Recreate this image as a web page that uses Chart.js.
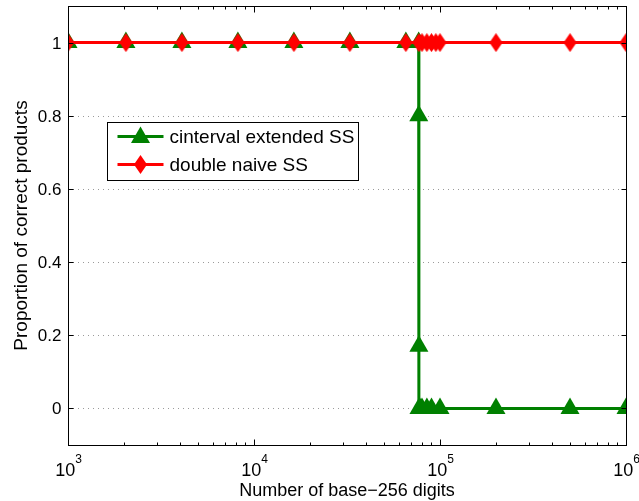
<!DOCTYPE html>
<html>
<head>
<meta charset="utf-8">
<script src="https://cdn.jsdelivr.net/npm/chart.js@4.4.0/dist/chart.umd.min.js"></script>
<style>
  body { margin: 0; background: #fff; }
  canvas { display: block; }
</style>
</head>
<body>
<canvas id="myChart" width="639" height="501"></canvas>
<script>
// number of base-256 digits (x) and proportion of correct products (y)
var intervalX = [1000, 2048, 4096, 8192, 16384, 32768, 65536, 76800, 76900, 77000, 77100, 78000, 80000, 85000, 90000, 100000, 200000, 500000, 1000000];
var intervalY = [1, 1, 1, 1, 1, 1, 1, 1, 0.8, 0.17, 0, 0, 0, 0, 0, 0, 0, 0, 0];
var naiveX = [1000, 2048, 4096, 8192, 16384, 32768, 65536, 77000, 80000, 85000, 90000, 95000, 100000, 200000, 500000, 1000000];
var naiveY = [1, 1, 1, 1, 1, 1, 1, 1, 1, 1, 1, 1, 1, 1, 1, 1];
var seriesNames = ["cinterval extended SS", "double naive SS"];
var seriesColors = ["#008000", "#ff0000"];
var xTickExps = [3, 4, 5, 6];
var yTicks = [0, 0.2, 0.4, 0.6, 0.8, 1];
var yTickLabels = ["0", "0.2", "0.4", "0.6", "0.8", "1"];
var xTitle = "Number of base\u2212256 digits";
var yTitle = "Proportion of correct products";

var FONT = '"Liberation Sans", Arial, sans-serif';

function toPoints(xs, ys) {
  return xs.map(function (x, i) { return { x: x, y: ys[i] }; });
}

// MATLAB style diamond is taller than wide
function makeDiamond(color, w, h) {
  var c = document.createElement("canvas");
  c.width = w;
  c.height = h;
  var g = c.getContext("2d");
  g.fillStyle = color;
  g.beginPath();
  g.moveTo(w / 2, 0);
  g.lineTo(w, h / 2);
  g.lineTo(w / 2, h);
  g.lineTo(0, h / 2);
  g.closePath();
  g.fill();
  return c;
}
var diamond = makeDiamond(seriesColors[1], 13, 19);

function drawTriangle(ctx, x, y, r, color) {
  ctx.fillStyle = color;
  ctx.beginPath();
  ctx.moveTo(x, y - r);
  ctx.lineTo(x + r * 0.866, y + r / 2);
  ctx.lineTo(x - r * 0.866, y + r / 2);
  ctx.closePath();
  ctx.fill();
}

// grid lines under the data
const gridPlugin = {
  id: "gridPlugin",
  beforeDatasetsDraw(chart) {
    const ctx = chart.ctx, a = chart.chartArea, ys = chart.scales.y;
    ctx.save();
    ctx.strokeStyle = "#9a9a9a";
    ctx.lineWidth = 1;
    ctx.setLineDash([1, 4]);
    yTicks.forEach(function (v) {
      const py = Math.round(ys.getPixelForValue(v)) + 0.5;
      ctx.beginPath();
      ctx.moveTo(a.left, py);
      ctx.lineTo(a.right, py);
      ctx.stroke();
    });
    ctx.restore();
  }
};

// box, ticks, labels and legend
const framePlugin = {
  id: "framePlugin",
  afterDraw(chart) {
    const ctx = chart.ctx, a = chart.chartArea, xs = chart.scales.x, ys = chart.scales.y;
    ctx.save();
    ctx.strokeStyle = "#000";
    ctx.lineWidth = 1;
    ctx.setLineDash([]);
    const L = Math.round(a.left) + 0.5, R = Math.round(a.right) + 0.5;
    const T = Math.round(a.top) + 0.5, B = Math.round(a.bottom) + 0.5;
    ctx.strokeRect(L, T, R - L, B - T);

    // y ticks on both sides
    ctx.fillStyle = "#000";
    ctx.font = "17px " + FONT;
    ctx.textAlign = "right";
    ctx.textBaseline = "middle";
    yTicks.forEach(function (v, i) {
      const py = Math.round(ys.getPixelForValue(v)) + 0.5;
      ctx.beginPath();
      ctx.moveTo(L, py); ctx.lineTo(L + 5, py);
      ctx.moveTo(R, py); ctx.lineTo(R - 5, py);
      ctx.stroke();
      ctx.fillText(yTickLabels[i], L - 7, py + 1);
    });

    // x ticks, major and minor
    xTickExps.forEach(function (e, k) {
      const base = Math.pow(10, e);
      const px = Math.round(xs.getPixelForValue(base)) + 0.5;
      ctx.beginPath();
      ctx.moveTo(px, B); ctx.lineTo(px, B - 6);
      ctx.moveTo(px, T); ctx.lineTo(px, T + 6);
      ctx.stroke();
      if (k < xTickExps.length - 1) {
        for (let m = 2; m <= 9; m++) {
          const mx = Math.round(xs.getPixelForValue(m * base)) + 0.5;
          ctx.beginPath();
          ctx.moveTo(mx, B); ctx.lineTo(mx, B - 3);
          ctx.moveTo(mx, T); ctx.lineTo(mx, T + 3);
          ctx.stroke();
        }
      }
      // 10^e label
      ctx.font = "18px " + FONT;
      const w10 = ctx.measureText("10").width;
      ctx.font = "12px " + FONT;
      const we = ctx.measureText(String(e)).width;
      const x0 = px - (w10 + we) / 2;
      ctx.textAlign = "left";
      ctx.textBaseline = "alphabetic";
      ctx.font = "18px " + FONT;
      ctx.fillText("10", x0, B + 30);
      ctx.font = "12px " + FONT;
      ctx.fillText(String(e), x0 + w10, B + 17);
    });

    // axis titles
    ctx.textAlign = "center";
    ctx.textBaseline = "alphabetic";
    ctx.font = "18px " + FONT;
    ctx.fillText(xTitle, (a.left + a.right) / 2, B + 50);
    ctx.save();
    ctx.font = "19px " + FONT;
    ctx.translate(27, (a.top + a.bottom) / 2);
    ctx.rotate(-Math.PI / 2);
    ctx.fillText(yTitle, 0, 0);
    ctx.restore();

    // legend box
    const lx = 107.5, ly = 122.5, lw = 251, lh = 58;
    ctx.fillStyle = "#fff";
    ctx.fillRect(lx, ly, lw, lh);
    ctx.strokeStyle = "#000";
    ctx.lineWidth = 1;
    ctx.strokeRect(lx, ly, lw, lh);
    ctx.font = "19px " + FONT;
    ctx.textAlign = "left";
    ctx.textBaseline = "middle";
    seriesNames.forEach(function (name, i) {
      const yy = ly + 14 + i * 28;
      ctx.strokeStyle = seriesColors[i];
      ctx.lineWidth = 3;
      ctx.beginPath();
      ctx.moveTo(lx + 10, yy);
      ctx.lineTo(lx + 56, yy);
      ctx.stroke();
      if (i === 0) {
        drawTriangle(ctx, lx + 33, yy + 1, 11, seriesColors[0]);
      } else {
        ctx.drawImage(diamond, lx + 33 - 6.5, yy - 9.5);
      }
      ctx.fillStyle = "#000";
      ctx.fillText(name, lx + 62, yy + 1);
    });
    ctx.restore();
  }
};

var ctx = document.getElementById("myChart").getContext("2d");
var chart = new Chart(ctx, {
  type: "scatter",
  data: {
    datasets: [
      {
        label: seriesNames[0],
        data: toPoints(intervalX, intervalY),
        showLine: true,
        borderColor: seriesColors[0],
        backgroundColor: seriesColors[0],
        borderWidth: 3,
        pointStyle: "triangle",
        pointRadius: 11,
        pointBorderWidth: 0,
        order: 1
      },
      {
        label: seriesNames[1],
        data: toPoints(naiveX, naiveY),
        showLine: true,
        borderColor: seriesColors[1],
        backgroundColor: seriesColors[1],
        borderWidth: 3,
        pointStyle: diamond,
        order: 0
      }
    ]
  },
  options: {
    responsive: false,
    animation: false,
    layout: { autoPadding: false, padding: { left: 68, right: 13, top: 6, bottom: 56 } },
    scales: {
      x: { type: "logarithmic", min: 1000, max: 1000000, display: false },
      y: { type: "linear", min: -0.1, max: 1.1, display: false }
    },
    plugins: {
      legend: { display: false },
      tooltip: { enabled: false }
    }
  },
  plugins: [gridPlugin, framePlugin]
});
</script>
</body>
</html>
